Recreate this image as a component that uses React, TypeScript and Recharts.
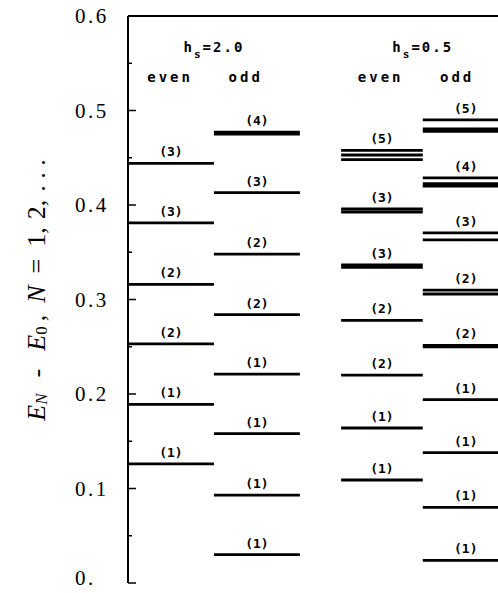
import { ComposedChart, LabelList, Line, ReferenceLine, Scatter, XAxis, YAxis } from 'recharts'

// E_N - E_0 for each column; one inner array per labelled group (nearly degenerate levels)
const even20Levels = [[0.126], [0.189], [0.253], [0.316], [0.381], [0.444]]
const even20Labels = ['(1)', '(1)', '(2)', '(2)', '(3)', '(3)']
const odd20Levels = [[0.03], [0.093], [0.158], [0.221], [0.284], [0.348], [0.413], [0.475, 0.477]]
const odd20Labels = ['(1)', '(1)', '(1)', '(1)', '(2)', '(2)', '(3)', '(4)']

const even05Levels = [[0.109], [0.164], [0.22], [0.278], [0.334, 0.3365], [0.3926, 0.3958], [0.4481, 0.4529, 0.4577]]
const even05Labels = ['(1)', '(1)', '(2)', '(2)', '(3)', '(3)', '(5)']
const odd05Levels = [[0.024], [0.08], [0.138], [0.194], [0.25, 0.2515], [0.3058, 0.31], [0.363, 0.3704], [0.42, 0.4225, 0.4286], [0.478, 0.4805, 0.49]]
const odd05Labels = ['(1)', '(1)', '(1)', '(1)', '(2)', '(2)', '(3)', '(4)', '(5)']

const fieldValues = ['2.0', '0.5']
const parityNames = ['even', 'odd']

const energyTicks = [0, 0.05, 0.1, 0.15, 0.2, 0.25, 0.3, 0.35, 0.4, 0.45, 0.5, 0.55, 0.6]

// horizontal slots of the columns, in x-axis units
const columns = [
  { levels: even20Levels, labels: even20Labels, x0: 0, x1: 1 },
  { levels: odd20Levels, labels: odd20Labels, x0: 1, x1: 2 },
  { levels: even05Levels, labels: even05Labels, x0: 2.48, x1: 3.43 },
  { levels: odd05Levels, labels: odd05Labels, x0: 3.43, x1: 4.43 },
]
const parityX = [0.49, 1.37, 2.94, 3.83]

const MONO = '"DejaVu Sans Mono", monospace'
const SERIF = '"Liberation Serif", serif'

function buildSegments(groups: number[][], labels: string[], x0: number, x1: number) {
  const pts: { x: number; y: number | null; label?: string }[] = []
  groups.forEach((levels, g) => {
    const top = Math.max(...levels)
    levels.forEach((e) => {
      pts.push({ x: x0, y: e })
      pts.push({ x: (x0 + x1) / 2, y: e, label: e === top ? labels[g] : undefined })
      pts.push({ x: x1, y: e })
      pts.push({ x: x1, y: null })
    })
  })
  return pts
}

const headerData = [
  ...fieldValues.map((v, i) => ({ x: columns[i * 2].x1, y: 0.567, kind: 'title', text: v })),
  ...parityX.map((x, i) => ({ x, y: 0.535, kind: 'parity', text: parityNames[i % 2] })),
]

function HeaderShape(props: any) {
  const { cx, cy, payload } = props
  if (payload.kind === 'title') {
    return (
      <text x={cx} y={cy} dy={5} textAnchor="middle" fontFamily={MONO} fontSize={14} fontWeight="bold" letterSpacing={2}>
        <tspan>h</tspan>
        <tspan fontSize={11} dy={6}>s</tspan>
        <tspan dy={-6}>={payload.text}</tspan>
      </text>
    )
  }
  return (
    <text x={cx} y={cy} dy={5} textAnchor="middle" fontFamily={MONO} fontSize={14} fontWeight="bold" letterSpacing={3}>
      {payload.text}
    </text>
  )
}

function LevelLabel(props: any) {
  const { x, y, value } = props
  if (!value) return null
  return (
    <text x={x} y={y - 7} textAnchor="middle" fontFamily={MONO} fontSize={13} fontWeight="bold">
      {value}
    </text>
  )
}

function EnergyTick(props: any) {
  const { x, y, payload } = props
  const v = payload.value
  const major = Math.round(v * 100) % 10 === 0
  return (
    <g>
      <line x1={x} x2={x + (major ? 8 : 4)} y1={y} y2={y} stroke="#000" strokeWidth={1.5} />
      {major && (
        <text x={x - 53} y={y} dy={v === 0 ? 2 : 7} fontFamily={SERIF} fontSize={21} letterSpacing={2.5} fill="#000">
          {v === 0 ? '0.' : v.toFixed(1)}
        </text>
      )}
    </g>
  )
}

function AxisTitle(props: any) {
  const { viewBox } = props
  const cx = viewBox.x + 28
  const cy = viewBox.y + 274
  return (
    <text
      x={cx}
      y={cy}
      transform={`rotate(-90, ${cx}, ${cy})`}
      textAnchor="middle"
      dominantBaseline="central"
      fontFamily={SERIF}
      fontSize={26}
      fill="#000"
      style={{ whiteSpace: 'pre' }}
    >
      <tspan fontStyle="italic">E</tspan>
      <tspan fontStyle="italic" fontSize={17} dy={5}>N</tspan>
      <tspan dy={-5} dx={16}>-</tspan>
      <tspan fontStyle="italic" dx={18}>E</tspan>
      <tspan fontSize={17} dy={5}>0</tspan>
      <tspan dy={-5} dx={5}>,</tspan>
      <tspan fontStyle="italic" dx={12}>N</tspan>
      <tspan dx={12}>=</tspan>
      <tspan dx={12}>1,</tspan>
      <tspan dx={8}>2,</tspan>
      <tspan dx={8}>. . .</tspan>
    </text>
  )
}

export default function App() {
  return (
    <div style={{ position: 'absolute', left: 8, top: 0, width: 490, height: 593, overflow: 'hidden' }}>
      <ComposedChart width={560} height={593} margin={{ top: 16, right: 0, bottom: 10, left: 0 }}>
        <XAxis
          dataKey="x"
          type="number"
          domain={[0, 5.12]}
          height={0}
          tick={false}
          tickLine={false}
          axisLine={{ stroke: '#000', strokeWidth: 2.5 }}
          allowDataOverflow
        />
        <YAxis
          type="number"
          domain={[0, 0.6]}
          ticks={energyTicks}
          interval={0}
          width={120}
          tickSize={0}
          tickMargin={0}
          tickLine={false}
          tick={<EnergyTick />}
          axisLine={{ stroke: '#000', strokeWidth: 2 }}
          label={{ content: (p: any) => <AxisTitle {...p} /> }}
        />
        <ReferenceLine y={0.6} stroke="#000" strokeWidth={2} />
        {columns.map((c, i) => (
          <Line
            key={i}
            data={buildSegments(c.levels, c.labels, c.x0, c.x1)}
            dataKey="y"
            type="linear"
            stroke="#000"
            strokeWidth={2.8}
            dot={false}
            activeDot={false}
            connectNulls={false}
            isAnimationActive={false}
          >
            <LabelList dataKey="label" content={<LevelLabel />} />
          </Line>
        ))}
        <Scatter data={headerData} dataKey="y" shape={<HeaderShape />} isAnimationActive={false} />
      </ComposedChart>
    </div>
  )
}
